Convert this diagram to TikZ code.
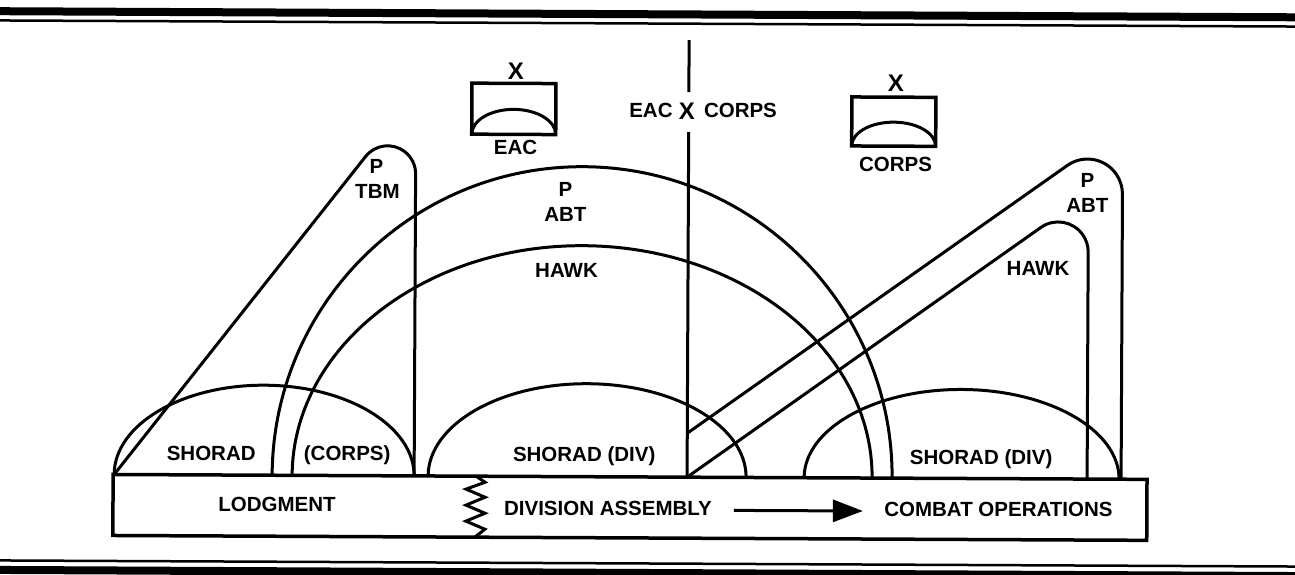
\documentclass[tikz,border=0pt]{standalone}
\usepackage{fontspec}
\setmainfont{Liberation Sans}
\usetikzlibrary{arrows.meta}
\begin{document}
\begin{tikzpicture}[x=1pt,y=1pt,
  ln/.style={line width=3pt, line join=round},
  boxln/.style={line width=3.5pt, line join=miter},
  lbl/.style={font=\fontsize{20.5}{24}\selectfont\bfseries, anchor=base, inner sep=0pt},
  xl/.style={font=\fontsize{24}{28}\selectfont\bfseries, anchor=base, inner sep=0pt}]
\useasboundingbox (0,0) rectangle (1295,575);
\begin{scope}[rotate around={-0.27:(647.5,287.5)}]
% rules
\draw[line width=8pt] (-10,560.75) -- (1305,560.75);
\draw[line width=2.5pt] (-10,551.5) -- (1305,551.5);
\draw[line width=2.5pt] (-10,11.5) -- (1305,11.5);
\draw[line width=8pt] (-10,2) -- (1305,2);

% phase bar
\coordinate (bl) at (114,37);
\coordinate (tr) at (1148,98);
\draw[boxln] (bl) rectangle (tr);
\draw[ln, line join=miter] (477,98) -- (486,92) -- (467,85) -- (486,77) -- (467,69) -- (486,61) -- (467,53) -- (486,45) -- (476,37);
\node[lbl] (lodg) at (278,61.8) {LODGMENT};
\node[lbl] (divas) at (609,59.8) {DIVISION ASSEMBLY};
\node[lbl] (combat) at (999.5,59.8) {COMBAT OPERATIONS};
\coordinate (arS) at (735,65);
\coordinate (arE) at (864,65);
\draw[ln, -{Triangle[length=30pt,width=22pt]}] (arS) -- (arE);

% EAC / CORPS boundary
\coordinate (v1) at (688,535);
\coordinate (v2) at (688,483);
\coordinate (v3) at (688,443);
\coordinate (v4) at (688,98);
\draw[ln] (v1) -- (v2);
\draw[ln] (v3) -- (v4);
\node[lbl, anchor=base east] (eacb) at (672,457.3) {EAC};
\node[xl] (xb) at (686,456) {X};
\node[lbl, anchor=base west] (corpsb) at (703,457.3) {CORPS};

% unit symbols
\draw[boxln] (471,440) rectangle (555,491);
\draw[ln] (471,440) arc[start angle=180, end angle=0, x radius=42, y radius=25];
\node[xl] (xeac) at (515,495) {X};
\node[lbl] (eacs) at (515,420.3) {EAC};
\draw[boxln] (851,430) rectangle (935,479);
\draw[ln] (851,430) arc[start angle=180, end angle=0, x radius=42, y radius=24];
\node[xl] (xcorps) at (895,484.5) {X};
\node[lbl] (corpss) at (895,404.3) {CORPS};

% SHORAD domes
\draw[ln] (115,98) arc[start angle=180, end angle=0, x radius=150, y radius=90];
\draw[ln] (429,98) arc[start angle=180, end angle=0, x radius=159, y radius=93];
\draw[ln] (805,98) arc[start angle=180, end angle=0, x radius=157.5, y radius=89];
\node[lbl] (sh1) at (212,112.8) {SHORAD};
\node[lbl] (sh2) at (348,112.8) {(CORPS)};
\node[lbl] (sh3) at (585,112.8) {SHORAD (DIV)};
\node[lbl] (sh4) at (982,112.3) {SHORAD (DIV)};

% big ABT and HAWK arcs
\draw[ln] (273,98) arc[start angle=180, end angle=0, radius=310];
\draw[ln] (293,98) arc[start angle=180, end angle=0, x radius=290, y radius=231];
\node[lbl] (p2) at (565,377.8) {P};
\node[lbl] (abt2) at (565,352.8) {ABT};
\node[lbl] (hawk2) at (566.5,296.8) {HAWK};

% TBM shape
\draw[ln] (115,98) -- (365.0,417.2) arc[start angle=142, end angle=0, radius=28] -- (415,98);
\node[lbl] (p1) at (376,399.8) {P};
\node[lbl] (tbm) at (377,374.8) {TBM};

% right ABT and HAWK shapes
\draw[ln] (688,142) -- (1066.7,411.5) arc[start angle=125.5, end angle=0, radius=35] -- (1122,98);
\draw[ln] (688,98) -- (1040.6,349.4) arc[start angle=125.5, end angle=0, radius=30] -- (1088,98);
\node[lbl] (p3) at (1087,389.8) {P};
\node[lbl] (abt3) at (1087,364.8) {ABT};
\node[lbl] (hawk3) at (1038,301.8) {HAWK};
\end{scope}
\end{tikzpicture}
\end{document}
